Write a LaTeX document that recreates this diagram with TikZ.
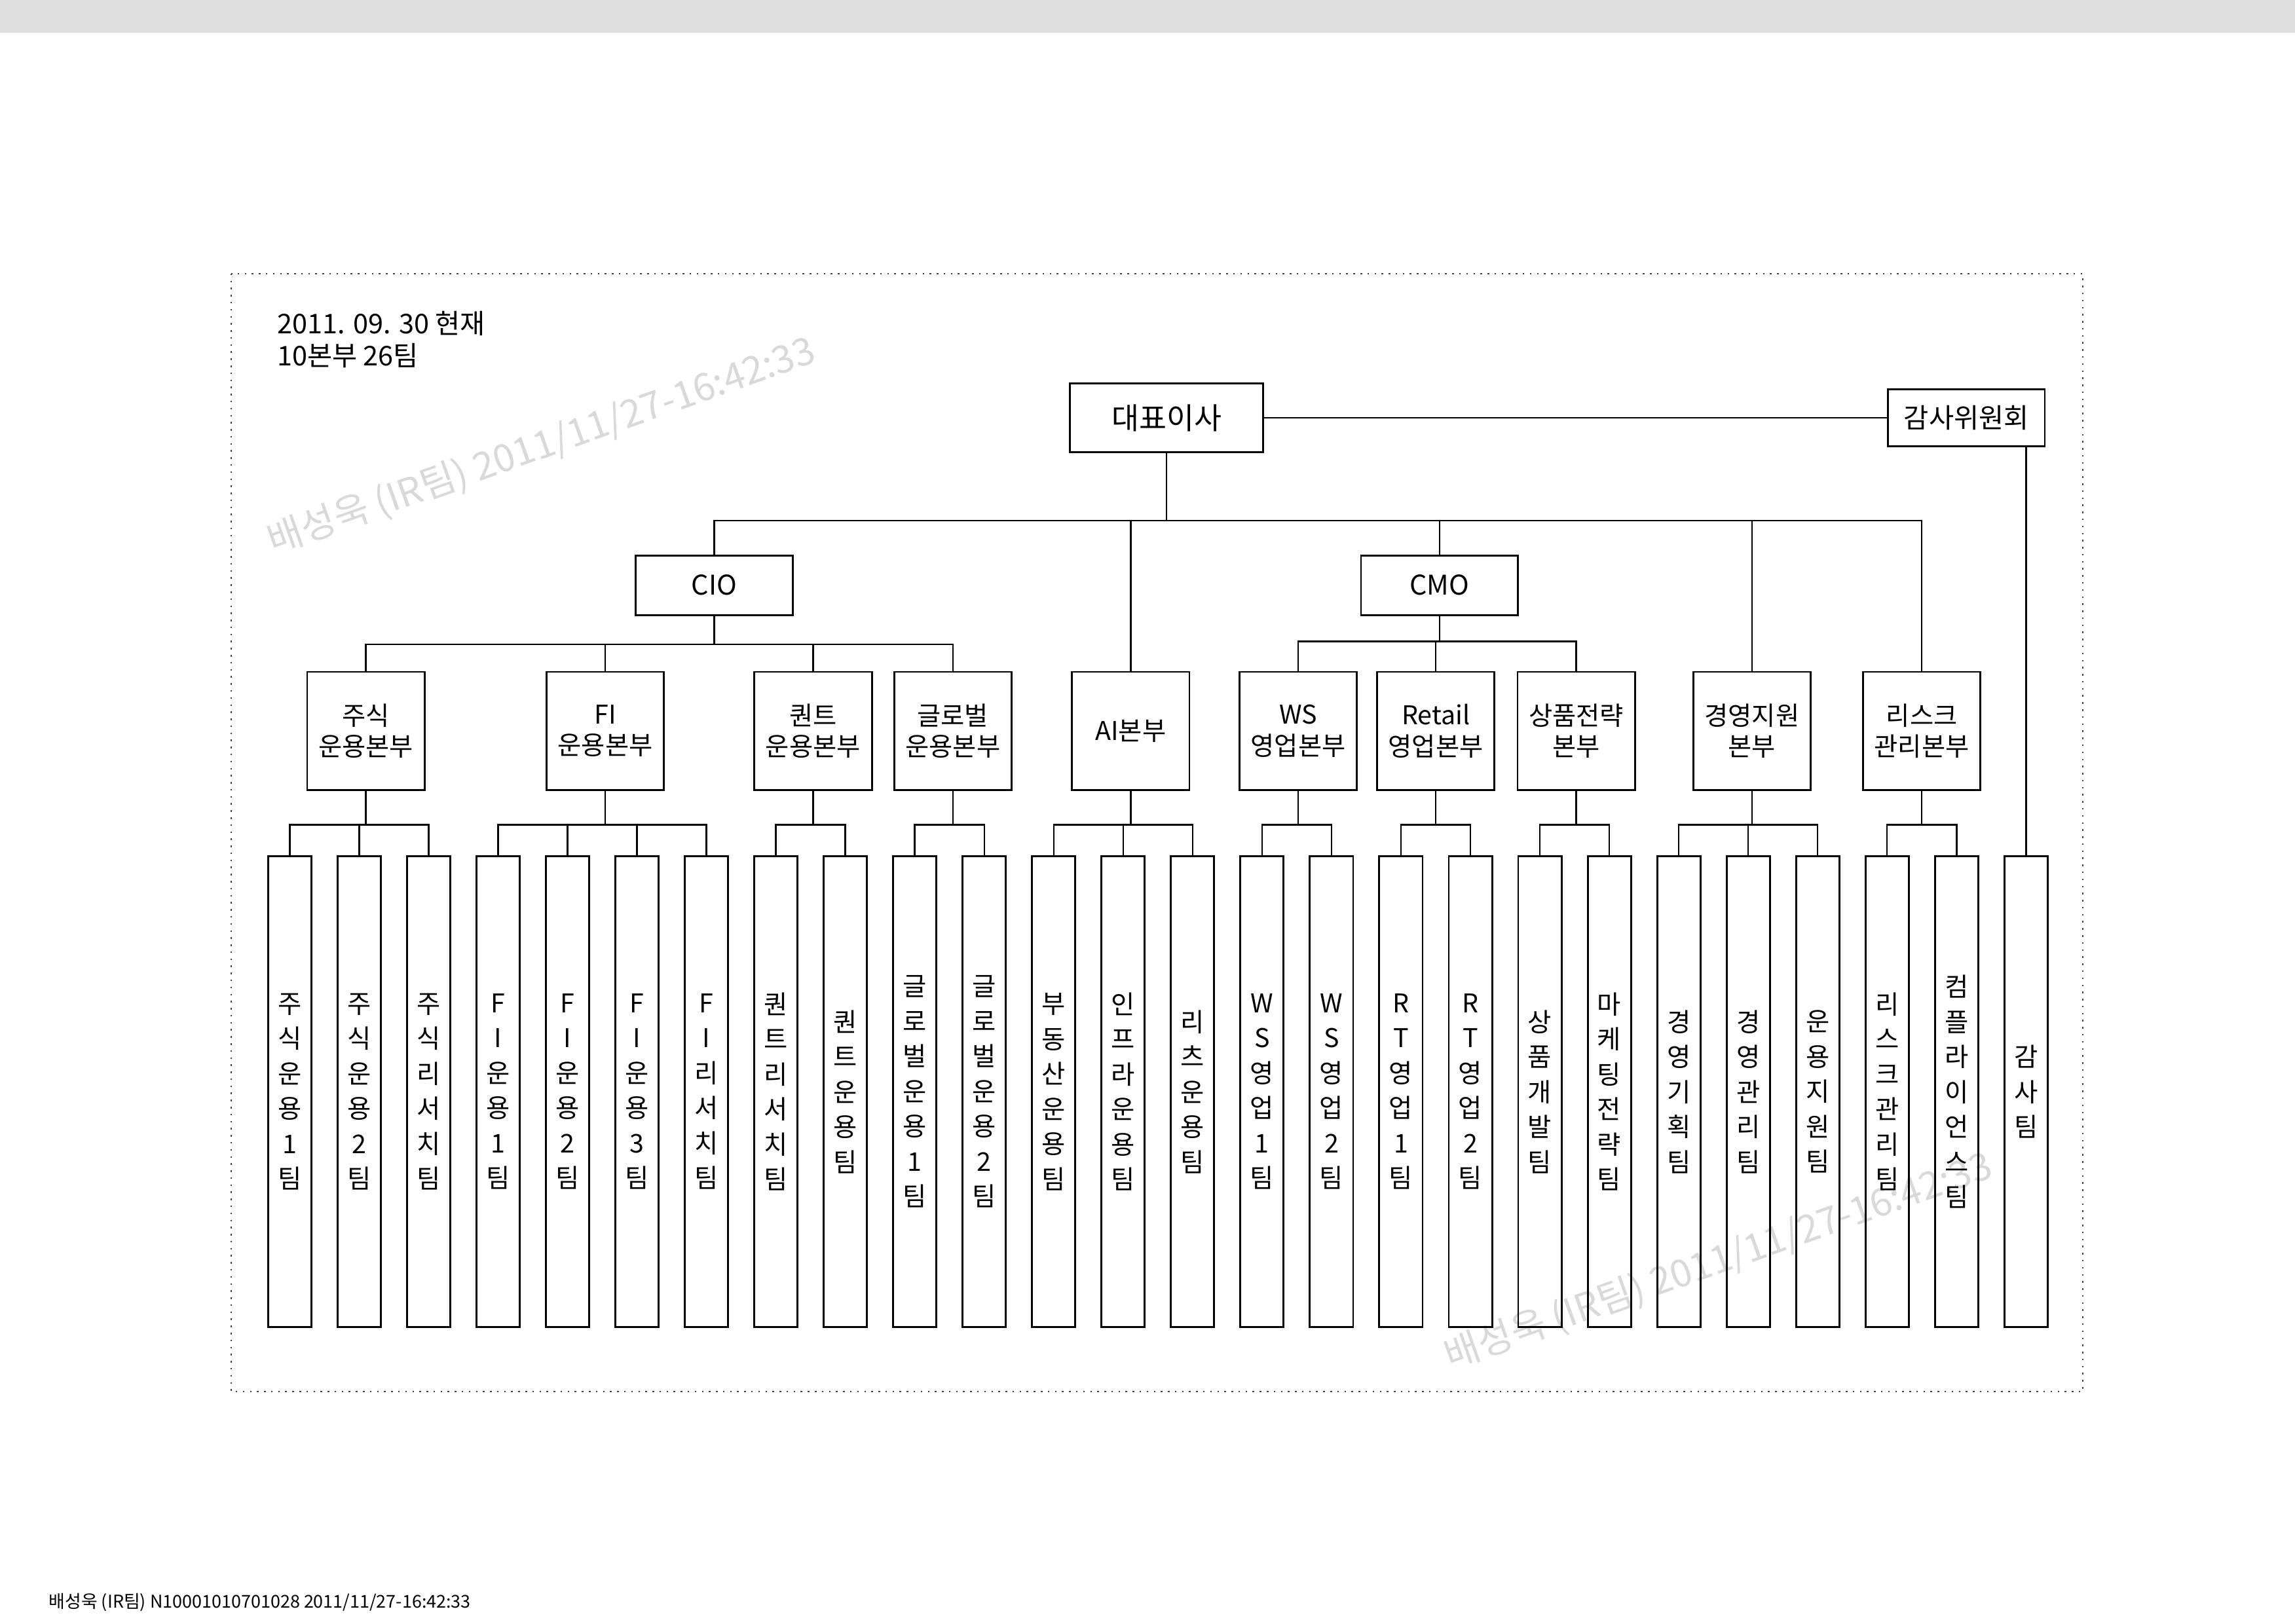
\documentclass[tikz,border=0pt]{standalone}
\usepackage{fontspec}
\setmainfont{Noto Sans CJK KR}

\begin{document}
\begin{tikzpicture}[
    box/.style={draw, line width=0.7pt, inner sep=0pt, align=center, font=\fontsize{9.5}{11.5}\selectfont},
    head/.style={box, minimum width=2.03cm, minimum height=0.77cm, font=\fontsize{10}{12}\selectfont},
    unit/.style={box, minimum width=1.52cm, minimum height=1.53cm},
    team/.style={box, minimum width=0.56cm, minimum height=6.1cm, font=\fontsize{9.5}{12.9}\selectfont},
    link/.style={line width=0.6pt},
    wmark/.style={text=black!15, inner sep=0pt, font=\fontsize{14}{16}\selectfont, rotate=19.5}]
                \useasboundingbox (0,0) rectangle (29.7,-21.02);
                \fill[black!13] (0,0) rectangle (29.7,-0.42);
                \draw[dotted, line width=0.6pt, black!75] (2.993,-3.542) rectangle (26.953,-18.013);
                \node[wmark] (W1) at (7.01,-5.78) {배성욱 (IR팀) 2011/11/27-16:42:33};
                \node[wmark] (W2) at (22.24,-16.33) {배성욱 (IR팀) 2011/11/27-16:42:33};
                \node[anchor=west, align=left, inner sep=0pt, font=\fontsize{10}{11.8}\selectfont] (DATE) at (3.58,-4.394) {2011. 09. 30 현재\\10본부 26팀};
                \node[head, minimum width=2.5cm, minimum height=0.89cm, font=\fontsize{11}{13}\selectfont] (CEO) at (15.096,-5.408) {대표이사};
                \node[head, minimum height=0.74cm] (AUD) at (25.447,-5.408) {감사위원회};
                \node[head] (CIO) at (9.243,-7.575) {CIO};
                \node[head] (CMO) at (18.628,-7.575) {CMO};
                \foreach \x/\n/\t in {4.735/D1/{주식\\운용본부}, 7.832/D2/{FI\\운용본부}, 10.522/D3/{퀀트\\운용본부},
                    12.331/D4/{글로벌\\운용본부}, 14.632/D5/{AI본부}, 16.801/D6/{WS\\영업본부}, 18.581/D7/{Retail\\영업본부},
                    20.399/D8/{상품전략\\본부}, 22.672/D9/{경영지원\\본부}, 24.870/D10/{리스크\\관리본부}}
                    \node[unit] (\n) at (\x,-9.461) {\t};
                \foreach \t [count=\i] in {{주\\식\\운\\용\\1\\팀}, {주\\식\\운\\용\\2\\팀}, {주\\식\\리\\서\\치\\팀},
                    {F\\I\\운\\용\\1\\팀}, {F\\I\\운\\용\\2\\팀}, {F\\I\\운\\용\\3\\팀}, {F\\I\\리\\서\\치\\팀},
                    {퀀\\트\\리\\서\\치\\팀}, {퀀\\트\\운\\용\\팀}, {글\\로\\벌\\운\\용\\1\\팀}, {글\\로\\벌\\운\\용\\2\\팀},
                    {부\\동\\산\\운\\용\\팀}, {인\\프\\라\\운\\용\\팀}, {리\\츠\\운\\용\\팀},
                    {W\\S\\영\\업\\1\\팀}, {W\\S\\영\\업\\2\\팀}, {R\\T\\영\\업\\1\\팀}, {R\\T\\영\\업\\2\\팀},
                    {상\\품\\개\\발\\팀}, {마\\케\\팅\\전\\략\\팀}, {경\\영\\기\\획\\팀}, {경\\영\\관\\리\\팀}, {운\\용\\지\\원\\팀},
                    {리\\스\\크\\관\\리\\팀}, {컴\\플\\라\\이\\언\\스\\팀}, {감\\사\\팀}}
                    \node[team] (T\i) at ({3.75+0.89875*(\i-1)},-14.13) {\t};
                \draw[link] (CEO.east) -- (AUD.west);
                \foreach \c in {CIO,D5,CMO,D9,D10}
                    \draw[link] (CEO.south) -- ++(0,-0.871) -| (\c.north);
                \foreach \c in {D1,D2,D3,D4}
                    \draw[link] (CIO.south) -- ++(0,-0.37) -| (\c.north);
                \foreach \c in {D6,D7,D8}
                    \draw[link] (CMO.south) -- ++(0,-0.33) -| (\c.north);
                \foreach \p/\c in {D1/1,D1/2,D1/3,D2/4,D2/5,D2/6,D2/7,D3/8,D3/9,D4/10,D4/11,D5/12,D5/13,D5/14,
                    D6/15,D6/16,D7/17,D7/18,D8/19,D8/20,D9/21,D9/22,D9/23,D10/24,D10/25}
                    \draw[link] (\p.south) -- ++(0,-0.436) -| (T\c.north);
                \draw[link] (T26.north) -- (T26.north |- AUD.south);
                \node[anchor=west, inner sep=0pt, font=\fontsize{6.5}{8}\selectfont] (FOOT) at (0.625,-20.74) {배성욱 (IR팀) N10001010701028 2011/11/27-16:42:33};
            \end{tikzpicture}
\end{document}
